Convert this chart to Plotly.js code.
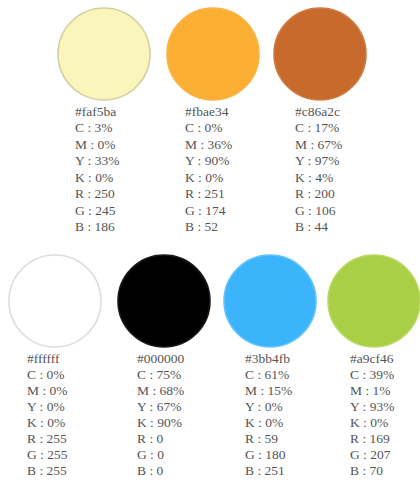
<!DOCTYPE html>
<html><head><meta charset="utf-8">
<script src="https://cdn.plot.ly/plotly-3.0.1.min.js"></script>
<style>html,body{margin:0;padding:0;background:#fff}#chart{width:420px;height:484px}</style>
</head><body><div id="chart"></div>
<script>
// ---- data ----
const hexCodes = ["#faf5ba","#fbae34","#c86a2c","#ffffff","#000000","#3bb4fb","#a9cf46"];
const cyanPct = [3,0,17,0,75,61,39];
const magentaPct = [0,36,67,0,68,15,1];
const yellowPct = [33,90,97,0,67,0,93];
const keyPct = [0,0,4,0,90,0,0];
const redVal = [250,251,200,255,0,59,169];
const greenVal = [245,174,106,255,0,180,207];
const blueVal = [186,52,44,255,0,251,70];

// ---- layout (positions / styles) ----
const cx = [104,213,320,55,164,270,374];
const cy = [54,54,54,301,301,301,301];
const row = [0,0,0,1,1,1,1];
const textX = [75,185,295,27,137,245,350];
const rowTextStart = [112.5,360];
const rowTextStep = [16.5,16];
const outline = ["#d3cfa4","#fbb444","#cf7a40","#dcdcdc","#1a1a1a","#62c4ff","#b8da62"];

const traces = [{
  type:"scatter", mode:"markers", x:cx, y:cy, hoverinfo:"skip",
  marker:{size:92, color:hexCodes, line:{color:outline, width:1.6}}
}];

const sep = " :\u00a0";
const lines = hexCodes.map((h,i)=>[
  h,
  "C"+sep+cyanPct[i]+"%",
  "M"+sep+magentaPct[i]+"%",
  "Y"+sep+yellowPct[i]+"%",
  "K"+sep+keyPct[i]+"%",
  "R"+sep+redVal[i],
  "G"+sep+greenVal[i],
  "B"+sep+blueVal[i]
]);

const tx=[], ty=[], tt=[];
lines.forEach((ls,i)=>{
  ls.forEach((s,k)=>{
    tx.push(textX[i]);
    ty.push(rowTextStart[row[i]] + k*rowTextStep[row[i]]);
    tt.push(s);
  });
});
traces.push({
  type:"scatter", mode:"text", x:tx, y:ty, text:tt, hoverinfo:"skip",
  textposition:"middle right",
  textfont:{family:"Liberation Serif, Times New Roman, serif", size:13.5, color:"#555555"}
});

const layout = {
  width:420, height:484, margin:{l:0,r:0,t:0,b:0},
  paper_bgcolor:"#ffffff", plot_bgcolor:"#ffffff", showlegend:false,
  xaxis:{range:[0,420], visible:false, fixedrange:true},
  yaxis:{range:[484,0], visible:false, fixedrange:true}
};
Plotly.newPlot("chart", traces, layout, {staticPlot:true, displayModeBar:false});
</script></body></html>
